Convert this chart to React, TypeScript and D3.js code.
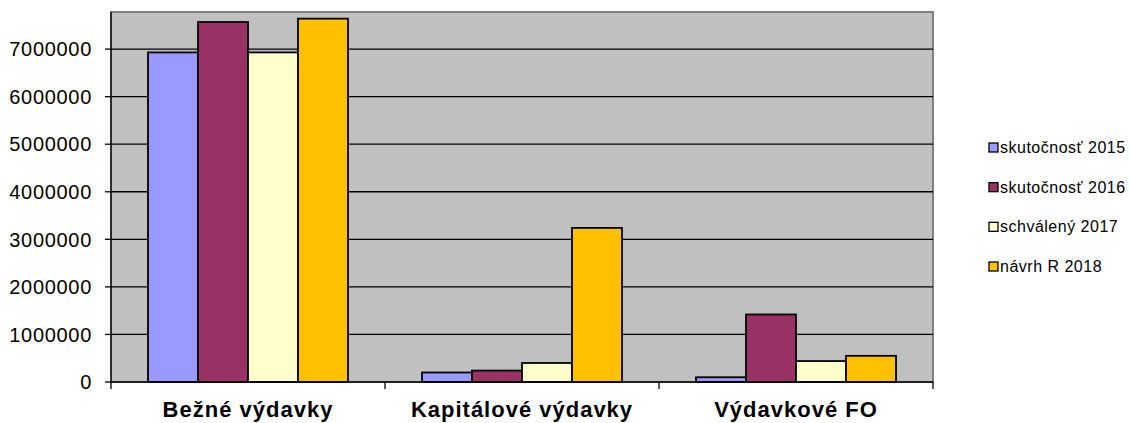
import React, { useEffect, useRef } from 'react'
import * as d3 from 'd3'

// categories and series
const categories = ['Bežné výdavky', 'Kapitálové výdavky', 'Výdavkové FO']
const seriesNames = ['skutočnosť 2015', 'skutočnosť 2016', 'schválený 2017', 'návrh R 2018']
const skutocnost2015 = [6930000, 200000, 100000]
const skutocnost2016 = [7570000, 240000, 1420000]
const schvaleny2017 = [6930000, 400000, 440000]
const navrh2018 = [7640000, 3240000, 550000]
const yTicks = [0, 1000000, 2000000, 3000000, 4000000, 5000000, 6000000, 7000000]

const colors = ['#9999FF', '#993366', '#FFFFCC', '#FFC000']

const W = 1130
const H = 423

export default function App() {
    const ref = useRef<SVGSVGElement>(null)

    useEffect(() => {
        const node = ref.current
        if (!node) return
        const svg = d3.select(node)
        svg.selectAll('*').remove()

        const series = [skutocnost2015, skutocnost2016, schvaleny2017, navrh2018]
        const left = 111, right = 933, top = 12, bottom = 382

        const x0 = d3.scaleBand().domain(categories).range([left, right]).paddingInner(0).paddingOuter(0)
        const x1 = d3.scaleBand().domain(seriesNames).range([37, x0.bandwidth() - 37]).padding(0)
        const y = d3.scaleLinear().domain([0, 7780000]).range([bottom, top])

        // plot area
        svg.append('rect')
            .attr('x', left).attr('y', top)
            .attr('width', right - left).attr('height', bottom - top)
            .attr('fill', '#C0C0C0')
            .attr('stroke', '#808080')
            .attr('stroke-width', 2)

        // gridlines
        svg.append('g')
            .selectAll('line')
            .data(yTicks.filter((d) => d > 0))
            .join('line')
            .attr('x1', left).attr('x2', right)
            .attr('y1', (d) => y(d)).attr('y2', (d) => y(d))
            .attr('stroke', '#000')
            .attr('stroke-width', 1.3)

        // bars
        const groups = svg.append('g')
            .selectAll('g')
            .data(categories)
            .join('g')
            .attr('transform', (d) => `translate(${x0(d)},0)`)

        groups.selectAll('rect')
            .data((d, i) => series.map((s, j) => ({ name: seriesNames[j], value: s[i], idx: j })))
            .join('rect')
            .attr('x', (d) => x1(d.name)!)
            .attr('y', (d) => y(d.value))
            .attr('width', x1.bandwidth())
            .attr('height', (d) => bottom - y(d.value))
            .attr('fill', (d) => colors[d.idx])
            .attr('stroke', '#000')
            .attr('stroke-width', 1.8)

        // y axis
        const yAxis = svg.append('g')
        yAxis.append('line')
            .attr('x1', left).attr('x2', left)
            .attr('y1', top).attr('y2', bottom)
            .attr('stroke', '#000').attr('stroke-width', 1.3)
        yAxis.selectAll('line.tick')
            .data(yTicks)
            .join('line')
            .attr('class', 'tick')
            .attr('x1', left - 6).attr('x2', left)
            .attr('y1', (d) => y(d)).attr('y2', (d) => y(d))
            .attr('stroke', '#000').attr('stroke-width', 1.3)
        yAxis.selectAll('text')
            .data(yTicks)
            .join('text')
            .attr('x', 92)
            .attr('y', (d) => y(d))
            .attr('dy', '0.36em')
            .attr('text-anchor', 'end')
            .attr('font-family', '"Liberation Sans", Arial, sans-serif')
            .attr('font-size', 20)
            .attr('letter-spacing', 0.7)
            .attr('fill', '#000')
            .text((d) => String(d))

        // x axis
        const xAxis = svg.append('g')
        xAxis.append('line')
            .attr('x1', left).attr('x2', right)
            .attr('y1', bottom).attr('y2', bottom)
            .attr('stroke', '#000').attr('stroke-width', 1.3)
        xAxis.selectAll('line.tick')
            .data([...categories.map((c) => x0(c)!), right])
            .join('line')
            .attr('class', 'tick')
            .attr('x1', (d) => d).attr('x2', (d) => d)
            .attr('y1', bottom).attr('y2', bottom + 7)
            .attr('stroke', '#000').attr('stroke-width', 1.3)
        xAxis.selectAll('text')
            .data(categories)
            .join('text')
            .attr('x', (d) => x0(d)! + x0.bandwidth() / 2)
            .attr('y', 417)
            .attr('text-anchor', 'middle')
            .attr('font-family', '"Liberation Sans", Arial, sans-serif')
            .attr('font-size', 22)
            .attr('font-weight', 'bold')
            .attr('letter-spacing', 1)
            .attr('fill', '#000')
            .text((d) => d)

        // legend
        const legendY = d3.scalePoint().domain(seriesNames).range([153, 272])
        const legend = svg.append('g')
            .selectAll('g')
            .data(seriesNames)
            .join('g')
            .attr('transform', (d) => `translate(989,${legendY(d)})`)
        legend.append('rect')
            .attr('x', 0).attr('y', -10)
            .attr('width', 9).attr('height', 9)
            .attr('fill', (d, i) => colors[i])
            .attr('stroke', '#000')
            .attr('stroke-width', 1.3)
        legend.append('text')
            .attr('x', 11)
            .attr('y', 0)
            .attr('font-family', '"Liberation Sans", Arial, sans-serif')
            .attr('font-size', 16)
            .attr('letter-spacing', 0.5)
            .attr('fill', '#000')
            .text((d) => d)
    }, [])

    return (
        <svg ref={ref} width={W} height={H}
            style={{ position: 'absolute', left: 0, top: 0, display: 'block', background: '#fff' }} />
    )
}
